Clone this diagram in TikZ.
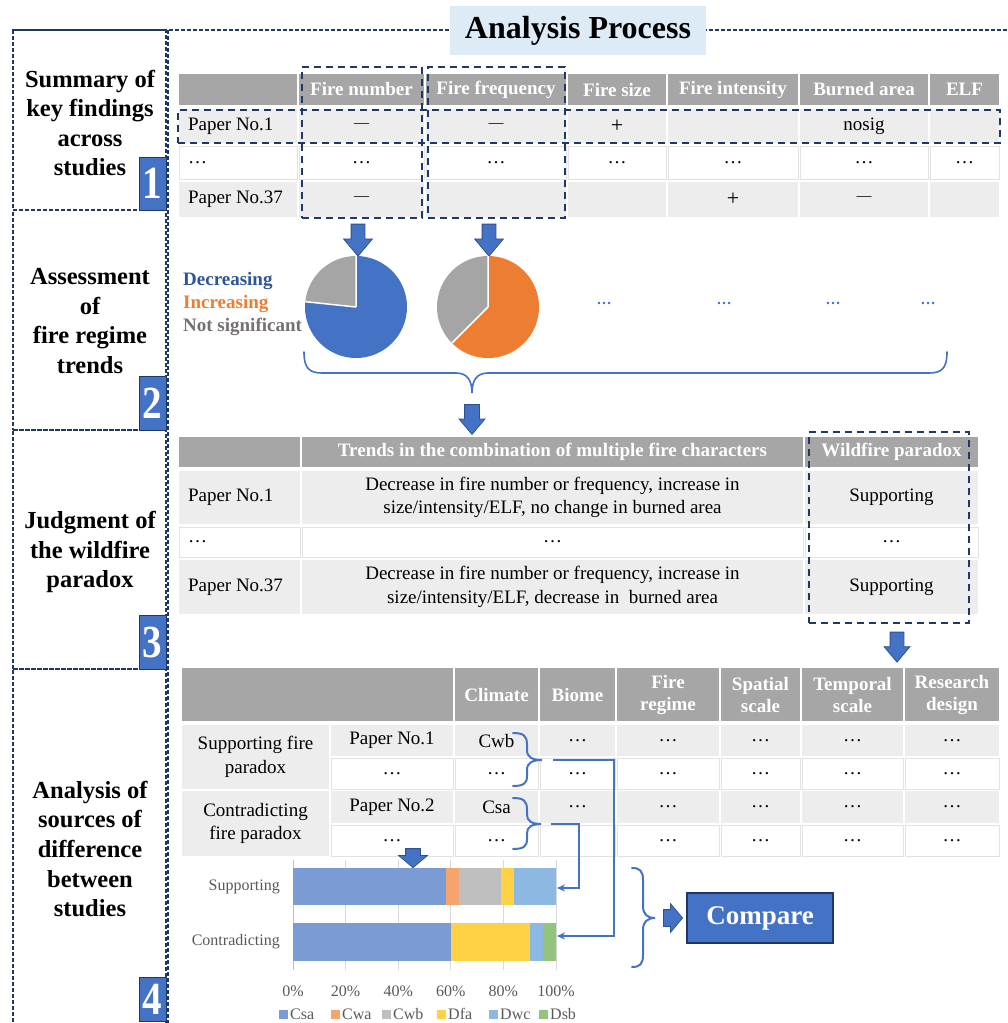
\documentclass[tikz,border=0pt]{standalone}
\usepackage{fontspec}
\setmainfont{Liberation Serif}
\usetikzlibrary{shapes.arrows,arrows.meta}

\definecolor{navy}{HTML}{203864}
\definecolor{mblue}{HTML}{4472C4}
\definecolor{dblue}{HTML}{2F5597}
\definecolor{arrowedge}{HTML}{2F528F}
\definecolor{hdrgrey}{HTML}{A6A6A6}
\definecolor{cellgrey}{HTML}{EDEDED}
\definecolor{linegrey}{HTML}{E2E2E2}
\definecolor{titlebg}{HTML}{DDEBF7}
\definecolor{morange}{HTML}{ED7D31}
\definecolor{pgrey}{HTML}{A5A5A5}
\definecolor{nsgrey}{HTML}{767171}
\definecolor{axgrey}{HTML}{595959}
\definecolor{gridgrey}{HTML}{D9D9D9}
\definecolor{cCsa}{HTML}{7B9BD5}
\definecolor{cCwa}{HTML}{F4A46C}
\definecolor{cCwb}{HTML}{BFBFBF}
\definecolor{cDfa}{HTML}{FFD145}
\definecolor{cDwc}{HTML}{8CB8E2}
\definecolor{cDsb}{HTML}{93C47D}

\newcommand{\fCell}{\fontsize{19}{23.5}\selectfont}
\newcommand{\fHead}{\fontsize{19}{22}\selectfont\bfseries}
\newcommand{\fSide}{\fontsize{24.5}{29.6}\selectfont\bfseries}
\newcommand{\fNum}{\fontsize{46}{46}\selectfont\bfseries}
\newcommand{\fTitle}{\fontsize{32}{36}\selectfont\bfseries}
\newcommand{\fChart}{\fontsize{16}{19}\selectfont}
\newcommand{\fLeg}{\fontsize{19}{22}\selectfont\bfseries}
\newcommand{\mdash}{\raisebox{1.2pt}{\fontsize{15}{15}\selectfont —}}

\newcommand{\tcell}[7]{%
 \pgfmathsetmacro{\tcX}{(#2+#4)/2}%
 \pgfmathsetmacro{\tcY}{(#3+#5)/2}%
 \pgfmathsetmacro{\tcW}{#4-#2}%
 \pgfmathsetmacro{\tcH}{#5-#3}%
 \pgfmathsetmacro{\tcTW}{#4-#2-18}%
 \node[#6, minimum width=\tcW pt, minimum height=\tcH pt] (#1) at (\tcX,\tcY) {#7};%
}

\tikzset{
 sidebox/.style={draw=navy, line width=1.4pt, dash pattern=on 4pt off 2pt, inner sep=0pt, outer sep=0pt},
 frameline/.style={draw=navy, line width=1.3pt, dash pattern=on 4pt off 2pt},
 boxdash/.style={draw=navy, line width=2.2pt, dash pattern=on 7pt off 5pt, inner sep=0pt, outer sep=0pt},
 hcell/.style={fill=hdrgrey, text=white, font=\fHead, inner sep=0pt, outer sep=0pt, align=center},
 gcell/.style={fill=cellgrey, font=\fCell, inner sep=0pt, outer sep=0pt, align=center},
 wcell/.style={fill=white, draw=linegrey, line width=0.7pt, font=\fCell, inner sep=0pt, outer sep=0pt, align=center},
 lefttext/.style={text width=\tcTW pt, align=flush left},
 numbox/.style={fill=mblue, draw=navy, line width=1pt, text=white, font=\fNum, inner sep=0pt, outer sep=0pt},
 sidetext/.style={font=\fSide, align=center, inner sep=0pt},
 blockarrow/.style={single arrow, fill=mblue, draw=arrowedge, line width=0.8pt, inner xsep=0pt, single arrow head indent=0pt, single arrow tip angle=80},
 conn/.style={draw=mblue, line width=1.2pt},
 bracepath/.style={draw=mblue, line width=2pt, line cap=round},
 charttext/.style={font=\fChart, text=axgrey, inner sep=0pt},
 legtext/.style={font=\fLeg, anchor=west, inner sep=0pt},
 dotstext/.style={font=\fontsize{15}{15}\selectfont\bfseries, text=mblue, inner sep=0pt},
}

\begin{document}
\begin{tikzpicture}[x=1pt,y=-1pt]
\useasboundingbox (0,0) rectangle (1007,1023);
\fill[white] (0,0) rectangle (1007,1023);

% ---------- frames ----------
\draw[frameline] (13,30) -- (1012,30);
\draw[frameline] (168,30) -- (168,1030);
\tcell{box1}{13}{30}{166}{210}{sidebox}{}
\tcell{box2}{13}{210}{166}{430}{sidebox}{}
\tcell{box3}{13}{430}{166}{669}{sidebox}{}
\tcell{box4}{13}{669}{166}{1040}{sidebox}{}

\tcell{title}{450}{6}{706}{55}{fill=titlebg, font=\fTitle, inner sep=0pt}{Analysis Process}

\node[sidetext] (s1) at (90,123) {Summary of\\key findings\\across\\studies};
\node[sidetext] (s2) at (90,321) {Assessment\\of\\fire regime\\trends};
\node[sidetext] (s3) at (90,552) {Judgment of\\the wildfire\\paradox};
\node[sidetext] (s4) at (90,849) {Analysis of\\sources of\\difference\\between\\studies};

\tcell{n1}{139}{157}{166}{210}{numbox}{\scalebox{0.85}[1]{1}}
\tcell{n2}{139}{376}{166}{430}{numbox}{\scalebox{0.85}[1]{2}}
\tcell{n3}{139}{615}{166}{669}{numbox}{\scalebox{0.85}[1]{3}}
\tcell{n4}{139}{977}{166}{1021}{numbox}{\scalebox{0.85}[1]{4}}

% ---------- table 1 ----------
\tcell{t1h0}{179}{74}{297}{105}{hcell}{}
\tcell{t1h1}{299}{74}{424}{105}{hcell}{Fire number}
\tcell{t1h2}{426}{74}{566}{105}{hcell}{Fire frequency}
\tcell{t1h3}{568}{74}{666}{105}{hcell}{Fire size}
\tcell{t1h4}{668}{74}{798}{105}{hcell}{Fire intensity}
\tcell{t1h5}{800}{74}{928}{105}{hcell}{Burned area}
\tcell{t1h6}{930}{74}{999}{105}{hcell}{ELF}

\tcell{t1a0}{179}{109}{297}{143}{gcell,lefttext}{Paper No.1}
\tcell{t1a1}{299}{109}{424}{143}{gcell}{\mdash}
\tcell{t1a2}{426}{109}{566}{143}{gcell}{\mdash}
\tcell{t1a3}{568}{109}{666}{143}{gcell}{\fontsize{22}{22}\selectfont +}
\tcell{t1a4}{668}{109}{798}{143}{gcell}{}
\tcell{t1a5}{800}{109}{928}{143}{gcell}{nosig}
\tcell{t1a6}{930}{109}{999}{143}{gcell}{}

\tcell{t1b0}{179}{146}{297}{179}{wcell,lefttext}{…}
\tcell{t1b1}{299}{146}{424}{179}{wcell}{…}
\tcell{t1b2}{426}{146}{566}{179}{wcell}{…}
\tcell{t1b3}{568}{146}{666}{179}{wcell}{…}
\tcell{t1b4}{668}{146}{798}{179}{wcell}{…}
\tcell{t1b5}{800}{146}{928}{179}{wcell}{…}
\tcell{t1b6}{930}{146}{999}{179}{wcell}{…}

\tcell{t1c0}{179}{182}{297}{217}{gcell,lefttext}{Paper No.37}
\tcell{t1c1}{299}{182}{424}{217}{gcell}{\mdash}
\tcell{t1c2}{426}{182}{566}{217}{gcell}{}
\tcell{t1c3}{568}{182}{666}{217}{gcell}{}
\tcell{t1c4}{668}{182}{798}{217}{gcell}{\fontsize{22}{22}\selectfont +}
\tcell{t1c5}{800}{182}{928}{217}{gcell}{\mdash}
\tcell{t1c6}{930}{182}{999}{217}{gcell}{}

\tcell{fnbox}{302}{67}{422}{218}{boxdash}{}
\tcell{ffbox}{428}{67}{565}{218}{boxdash}{}
\tcell{p1box}{178}{110}{1000}{143}{boxdash}{}

% ---------- arrows to pies ----------
\node[blockarrow, rotate=-90, minimum height=32pt, inner ysep=6.5pt, single arrow head extend=7.5pt] (a1) at (358,236) {};
\node[blockarrow, rotate=-90, minimum height=32pt, inner ysep=6.5pt, single arrow head extend=7.5pt] (a2) at (489,236) {};

% ---------- pies ----------
\coordinate (p1c) at (356,307);
\fill[pgrey] (p1c) -- ++(-90:51) arc[start angle=-90, end angle=-174, radius=51] -- cycle;
\fill[mblue] (p1c) -- ++(-174:51) arc[start angle=-174, end angle=-450, radius=51] -- cycle;
\draw[white, line width=1.5pt] (p1c) -- ++(-90:51) (p1c) -- ++(-174:51);

\coordinate (p2c) at (488,307);
\fill[pgrey] (p2c) -- ++(-90:51) arc[start angle=-90, end angle=-225, radius=51] -- cycle;
\fill[morange] (p2c) -- ++(-225:51) arc[start angle=-225, end angle=-450, radius=51] -- cycle;
\draw[white, line width=1.5pt] (p2c) -- ++(-90:51) (p2c) -- ++(-225:51);

\node[legtext, text=dblue] (legdec) at (183,281) {Decreasing};
\node[legtext, text=morange] (leginc) at (183,304) {Increasing};
\node[legtext, text=nsgrey] (legns) at (183,327) {Not significant};

\node[dotstext] (dots1) at (604,303) {…};
\node[dotstext] (dots2) at (724,303) {…};
\node[dotstext] (dots3) at (833,303) {…};
\node[dotstext] (dots4) at (928,303) {…};

\draw[draw=mblue, line width=1.6pt, line cap=round] (304,352) .. controls (304,368) and (309,373) .. (322,373) -- (456,373) .. controls (467,373) and (472,380) .. (472,393) .. controls (472,380) and (477,373) .. (488,373) -- (929,373) .. controls (942,373) and (947,368) .. (947,352);

\node[blockarrow, rotate=-90, minimum height=30pt, inner ysep=7pt, single arrow head extend=5.5pt] (a3) at (472,415) {};

% ---------- table 3 ----------
\tcell{t3h0}{179}{437}{300}{467}{hcell}{}
\tcell{t3h1}{302}{437}{803}{467}{hcell}{Trends in the combination of multiple fire characters}
\tcell{t3h2}{805}{437}{978}{467}{hcell}{Wildfire paradox}

\tcell{t3a0}{179}{471}{300}{524}{gcell,lefttext}{Paper No.1}
\tcell{t3a1}{302}{471}{803}{524}{gcell}{Decrease in fire number or frequency, increase in\\size/intensity/ELF, no change in burned area}
\tcell{t3a2}{805}{471}{978}{524}{gcell}{Supporting}

\tcell{t3b0}{179}{527}{300}{557}{wcell,lefttext}{…}
\tcell{t3b1}{302}{527}{803}{557}{wcell}{…}
\tcell{t3b2}{805}{527}{978}{557}{wcell}{…}

\tcell{t3c0}{179}{560}{300}{614}{gcell,lefttext}{Paper No.37}
\tcell{t3c1}{302}{560}{803}{614}{gcell}{Decrease in fire number or frequency, increase in\\size/intensity/ELF, decrease in\ \ burned area}
\tcell{t3c2}{805}{560}{978}{614}{gcell}{Supporting}

\tcell{wpbox}{809}{432}{969}{623}{boxdash}{}

\node[blockarrow, rotate=-90, minimum height=30pt, inner ysep=6.5pt, single arrow head extend=6pt] (a4) at (897,643) {};

% ---------- table 4 ----------
\tcell{t4h0}{182}{668}{453}{721}{hcell}{}
\tcell{t4h1}{455}{668}{538}{721}{hcell}{Climate}
\tcell{t4h2}{540}{668}{615}{721}{hcell}{Biome}
\tcell{t4h3}{617}{668}{719}{721}{hcell}{Fire\\regime}
\tcell{t4h4}{721}{668}{800}{721}{hcell}{Spatial\\scale}
\tcell{t4h5}{802}{668}{903}{721}{hcell}{Temporal\\scale}
\tcell{t4h6}{905}{668}{999}{721}{hcell}{Research\\design}

\tcell{t4g1}{182}{725}{329}{789}{gcell}{Supporting fire\\paradox}
\tcell{t4g2}{182}{791}{329}{856}{gcell}{Contradicting\\fire paradox}

\tcell{t4a1}{331}{725}{453}{756}{gcell}{Paper No.1}
\tcell{t4a2}{455}{725}{538}{756}{gcell}{Cwb}
\tcell{t4a3}{540}{725}{615}{756}{gcell}{…}
\tcell{t4a4}{617}{725}{719}{756}{gcell}{…}
\tcell{t4a5}{721}{725}{800}{756}{gcell}{…}
\tcell{t4a6}{802}{725}{903}{756}{gcell}{…}
\tcell{t4a7}{905}{725}{999}{756}{gcell}{…}

\tcell{t4b1}{331}{758}{453}{789}{wcell}{…}
\tcell{t4b2}{455}{758}{538}{789}{wcell}{…}
\tcell{t4b3}{540}{758}{615}{789}{wcell}{…}
\tcell{t4b4}{617}{758}{719}{789}{wcell}{…}
\tcell{t4b5}{721}{758}{800}{789}{wcell}{…}
\tcell{t4b6}{802}{758}{903}{789}{wcell}{…}
\tcell{t4b7}{905}{758}{999}{789}{wcell}{…}

\tcell{t4c1}{331}{791}{453}{823}{gcell}{Paper No.2}
\tcell{t4c2}{455}{791}{538}{823}{gcell}{Csa}
\tcell{t4c3}{540}{791}{615}{823}{gcell}{…}
\tcell{t4c4}{617}{791}{719}{823}{gcell}{…}
\tcell{t4c5}{721}{791}{800}{823}{gcell}{…}
\tcell{t4c6}{802}{791}{903}{823}{gcell}{…}
\tcell{t4c7}{905}{791}{999}{823}{gcell}{…}

\tcell{t4d1}{331}{825}{453}{856}{wcell}{…}
\tcell{t4d2}{455}{825}{538}{856}{wcell}{…}
\tcell{t4d3}{540}{825}{615}{856}{wcell}{}
\tcell{t4d4}{617}{825}{719}{856}{wcell}{…}
\tcell{t4d5}{721}{825}{800}{856}{wcell}{…}
\tcell{t4d6}{802}{825}{903}{856}{wcell}{…}
\tcell{t4d7}{905}{825}{999}{856}{wcell}{…}

% climate braces
\draw[bracepath] (513,733) .. controls (524,733) and (527,736) .. (527,745) -- (527,750) .. controls (527,757) and (532,760) .. (542,760) .. controls (532,760) and (527,763) .. (527,770) -- (527,776) .. controls (527,783) and (524,786) .. (513,786);
\coordinate (bt1) at (542,760);
\draw[bracepath] (513,798) .. controls (524,798) and (527,801) .. (527,810) -- (527,815) .. controls (527,821) and (532,824) .. (541,824) .. controls (532,824) and (527,827) .. (527,833) -- (527,839) .. controls (527,846) and (524,849) .. (513,849);
\coordinate (bt2) at (541,824);

% ---------- bar chart ----------
\foreach \k in {1,...,5} {
  \draw[gridgrey, line width=0.8pt] ({293+52.6*\k},860) -- ({293+52.6*\k},970);
}
\draw[cCwb, line width=0.9pt] (293,860) -- (293,970);

\node[inner sep=0pt, outer sep=0pt, minimum width=263pt, minimum height=37pt] (supbar) at (424.5,886.5) {};
\node[inner sep=0pt, outer sep=0pt, minimum width=263pt, minimum height=38pt] (conbar) at (424.5,942) {};

\fill[cCsa] (293,868) rectangle ({293+2.63*58},905);
\fill[cCwa] ({293+2.63*58},868) rectangle ({293+2.63*63},905);
\fill[cCwb] ({293+2.63*63},868) rectangle ({293+2.63*79},905);
\fill[cDfa] ({293+2.63*79},868) rectangle ({293+2.63*84},905);
\fill[cDwc] ({293+2.63*84},868) rectangle (556,905);

\fill[cCsa] (293,923) rectangle ({293+2.63*60},961);
\fill[cDfa] ({293+2.63*60},923) rectangle ({293+2.63*90},961);
\fill[cDwc] ({293+2.63*90},923) rectangle ({293+2.63*95},961);
\fill[cDsb] ({293+2.63*95},923) rectangle (556,961);

\node[charttext, anchor=east] (lsup) at (280,887) {Supporting};
\node[charttext, anchor=east] (lcon) at (280,942) {Contradicting};

\foreach \k/\lab in {0/0\%,1/20\%,2/40\%,3/60\%,4/80\%,5/100\%} {
  \node[charttext] (ax\k) at ({293+52.6*\k},991) {\lab};
}

\foreach \nm/\xx in {Csa/283,Cwa/335,Cwb/386,Dfa/441,Dwc/493,Dsb/543} {
  \fill[c\nm] (\xx-4.5,1009.5) rectangle (\xx+4.5,1018.5);
  \node[charttext, anchor=west] (leg\nm) at (\xx+7,1014) {\nm};
}

\node[blockarrow, rotate=-90, minimum height=19pt, inner ysep=7pt, single arrow head extend=7pt, single arrow tip angle=100] (a5) at (413,855) {};

% ---------- connectors ----------
\draw[conn, -{Stealth[length=8pt,width=7pt]}] ([xshift=11pt]bt1) -- ++(61,0) |- ([xshift=1pt,yshift=6pt]conbar.east);
\draw[conn, -{Stealth[length=8pt,width=7pt]}] ([xshift=10pt]bt2) -- ++(28,0) |- ([xshift=1pt,yshift=-1.5pt]supbar.east);

% ---------- compare ----------
\draw[bracepath] (632,868) .. controls (640,868) and (643,871) .. (643,880) -- (643,906) .. controls (643,914) and (647,918) .. (655,918) .. controls (647,918) and (643,922) .. (643,930) -- (643,955) .. controls (643,964) and (640,967) .. (632,967);
\node[blockarrow, minimum height=19pt, inner ysep=8pt, single arrow head extend=6pt, single arrow tip angle=100] (a6) at (669.5,918) {};
\tcell{cmp}{687}{893}{833}{943}{fill=mblue, draw=navy, line width=1.2pt, text=white, font=\fontsize{27}{30}\selectfont\bfseries, inner sep=0pt}{Compare}

\end{tikzpicture}
\end{document}
